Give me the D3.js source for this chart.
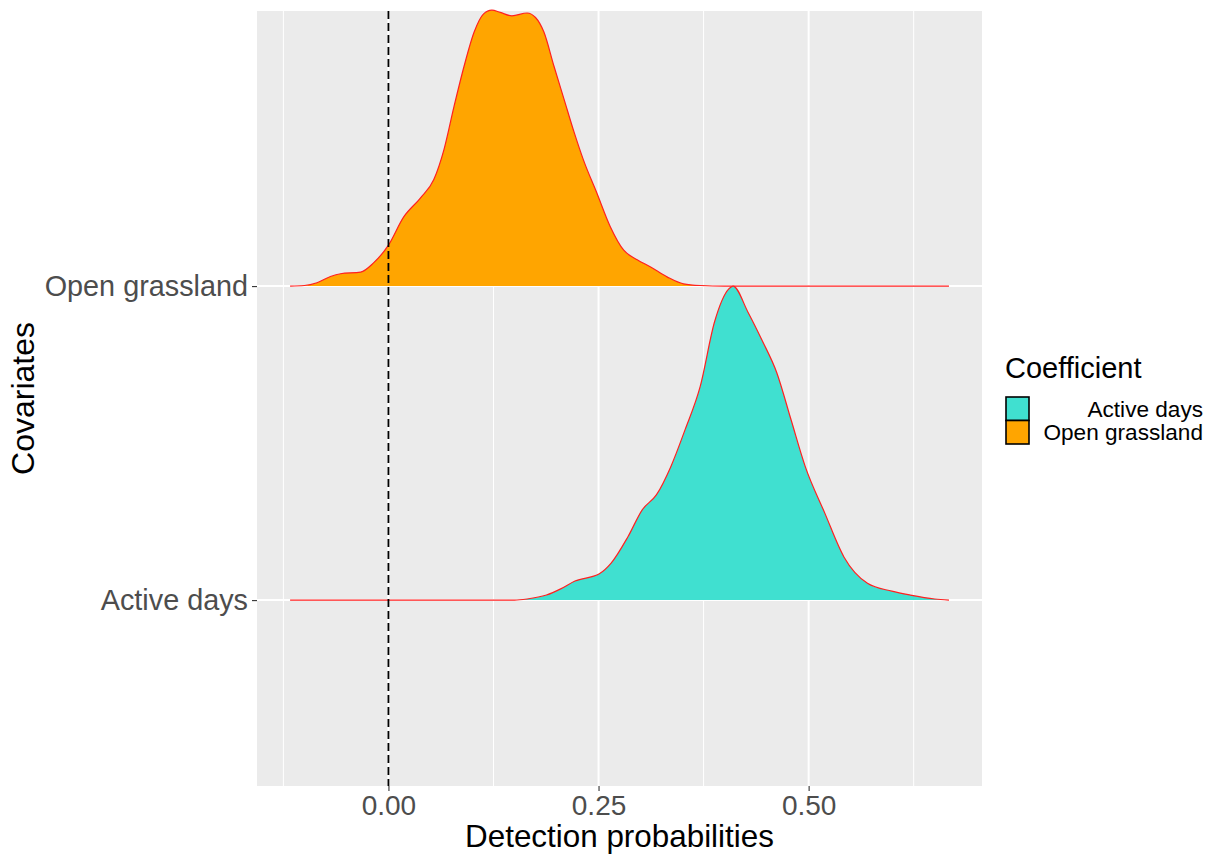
<!DOCTYPE html>
<html>
<head>
<meta charset="utf-8">
<script src="https://cdn.jsdelivr.net/npm/d3@7"></script>
<style>
  body { margin: 0; background: #fff; }
  text { font-family: "Liberation Sans", Arial, sans-serif; }
</style>
</head>
<body>
<svg id="chart"></svg>
<script>
// Dữ liệu
const categories = ["Active days", "Open grassland"];
const fillColors = ["#40E0D0", "#FFA500"];
const xTicks = [0, 0.25, 0.5];
const xMinorTicks = [-0.125, 0.125, 0.375, 0.625];

// Mật độ (density) của từng hệ số
const activeX = [-0.117, 0.15, 0.165, 0.188, 0.205, 0.222, 0.251, 0.265, 0.285, 0.302, 0.319, 0.336, 0.353,
    0.371, 0.388, 0.405, 0.41, 0.428, 0.445, 0.462, 0.479, 0.496, 0.519, 0.542, 0.57, 0.599, 0.621, 0.65, 0.667];
const activeDensity = [0, 0, 0.02, 0.09, 0.2, 0.34, 0.47, 0.66, 1.13, 1.61, 1.88, 2.38, 3.04,
    3.81, 4.96, 5.55, 5.6, 5.13, 4.62, 4.06, 3.22, 2.38, 1.56, 0.77, 0.3, 0.16, 0.09, 0.02, 0];

const grassX = [-0.117, -0.1, -0.085, -0.069, -0.057, -0.033, -0.018, 0, 0.018, 0.038, 0.054, 0.066, 0.078,
    0.09, 0.102, 0.113, 0.123, 0.133, 0.147, 0.165, 0.175, 0.185, 0.197, 0.209, 0.221, 0.232, 0.248,
    0.264, 0.28, 0.296, 0.312, 0.332, 0.351, 0.371, 0.4, 0.667];
const grassDensity = [0, 0.01, 0.06, 0.17, 0.22, 0.25, 0.41, 0.73, 1.23, 1.57, 1.9, 2.43, 3.2,
    3.92, 4.53, 4.85, 4.92, 4.88, 4.82, 4.87, 4.79, 4.53, 3.92, 3.33, 2.74, 2.25, 1.66,
    1.06, 0.64, 0.47, 0.34, 0.16, 0.04, 0.01, 0, 0];

const W = 1215, H = 857;
const panel = { left: 257, right: 982, top: 11, bottom: 786 };
const font = '"Liberation Sans", Arial, sans-serif';

const svg = d3.select("#chart").attr("width", W).attr("height", H);

// Thang đo
const x = d3.scaleLinear().domain([-0.1564, 0.7063]).range([panel.left, panel.right]);
const y = d3.scaleLinear().domain([0.408, 2.876]).range([panel.bottom, panel.top]);
const hScale = d3.scaleLinear()
    .domain([0, d3.max(activeDensity.concat(grassDensity))])
    .range([0, 1]);

// Nền panel
svg.append("rect")
    .attr("x", panel.left).attr("y", panel.top)
    .attr("width", panel.right - panel.left).attr("height", panel.bottom - panel.top)
    .attr("fill", "#EBEBEB");

// Lưới
svg.append("g").selectAll("line").data(xMinorTicks).enter().append("line")
    .attr("x1", d => x(d)).attr("x2", d => x(d))
    .attr("y1", panel.top).attr("y2", panel.bottom)
    .attr("stroke", "#fff").attr("stroke-width", 1);
svg.append("g").selectAll("line").data(xTicks).enter().append("line")
    .attr("x1", d => x(d)).attr("x2", d => x(d))
    .attr("y1", panel.top).attr("y2", panel.bottom)
    .attr("stroke", "#fff").attr("stroke-width", 2);
svg.append("g").selectAll("line").data([1, 2]).enter().append("line")
    .attr("x1", panel.left).attr("x2", panel.right)
    .attr("y1", d => y(d)).attr("y2", d => y(d))
    .attr("stroke", "#fff").attr("stroke-width", 2);

// Ridgelines: vẽ hàng trên trước, hàng dưới sau
const ridges = [
    { idx: 2, xs: grassX, ds: grassDensity, color: fillColors[1] },
    { idx: 1, xs: activeX, ds: activeDensity, color: fillColors[0] }
];

ridges.forEach(r => {
    const pts = r.xs.map((v, i) => ({ x: v, d: r.ds[i] }));
    const area = d3.area()
        .x(d => x(d.x))
        .y0(y(r.idx))
        .y1(d => y(r.idx + hScale(d.d)))
        .curve(d3.curveMonotoneX);
    const line = d3.line()
        .x(d => x(d.x))
        .y(d => y(r.idx + hScale(d.d)))
        .curve(d3.curveMonotoneX);

    svg.append("path").datum(pts)
        .attr("d", area)
        .attr("fill", r.color);
    svg.append("path").datum(pts)
        .attr("d", line)
        .attr("fill", "none")
        .attr("stroke", "#FF2020")
        .attr("stroke-width", 1.2);
});

// Đường tham chiếu x = 0
svg.append("line")
    .attr("x1", x(0)).attr("x2", x(0))
    .attr("y1", panel.top).attr("y2", panel.bottom)
    .attr("stroke", "#000").attr("stroke-width", 1.8)
    .attr("stroke-dasharray", "8,4");

// Trục X
const xAxis = svg.append("g")
    .attr("transform", `translate(0,${panel.bottom})`)
    .call(d3.axisBottom(x).tickValues(xTicks).tickFormat(d3.format(".2f")).tickSize(5).tickPadding(4));
// Trục Y
const yAxis = svg.append("g")
    .attr("transform", `translate(${panel.left},0)`)
    .call(d3.axisLeft(y).tickValues([1, 2]).tickFormat(i => categories[i - 1]).tickSize(5).tickPadding(4));

[xAxis, yAxis].forEach(a => {
    a.select(".domain").remove();
    a.selectAll(".tick line").attr("stroke", "#333").attr("stroke-width", 1.1);
    a.selectAll(".tick text")
        .attr("fill", "#4D4D4D")
        .style("font-family", font)
        .style("font-size", "28px");
});
yAxis.selectAll(".tick text").style("font-size", "28.8px");

// Tiêu đề trục
svg.append("text")
    .attr("x", (panel.left + panel.right) / 2)
    .attr("y", 847)
    .attr("text-anchor", "middle")
    .style("font-size", "31.4px")
    .text("Detection probabilities");

svg.append("text")
    .attr("transform", `translate(34,${(panel.top + panel.bottom) / 2}) rotate(-90)`)
    .attr("text-anchor", "middle")
    .style("font-size", "32px")
    .text("Covariates");

// Chú giải
const legend = svg.append("g").attr("transform", "translate(1006,0)");

legend.append("text")
    .attr("x", -1).attr("y", 378)
    .style("font-size", "29px")
    .text("Coefficient");

legend.selectAll("rect")
    .data(categories)
    .enter().append("rect")
    .attr("x", 0)
    .attr("y", (d, i) => 397 + i * 23.5)
    .attr("width", 23)
    .attr("height", 23.5)
    .attr("fill", (d, i) => fillColors[i])
    .attr("stroke", "#000")
    .attr("stroke-width", 1.6);

legend.selectAll("text.lab")
    .data(categories)
    .enter().append("text")
    .attr("class", "lab")
    .attr("x", 197)
    .attr("y", (d, i) => 416.5 + i * 23.5)
    .attr("text-anchor", "end")
    .style("font-size", "22.6px")
    .text(d => d);
</script>
</body>
</html>
